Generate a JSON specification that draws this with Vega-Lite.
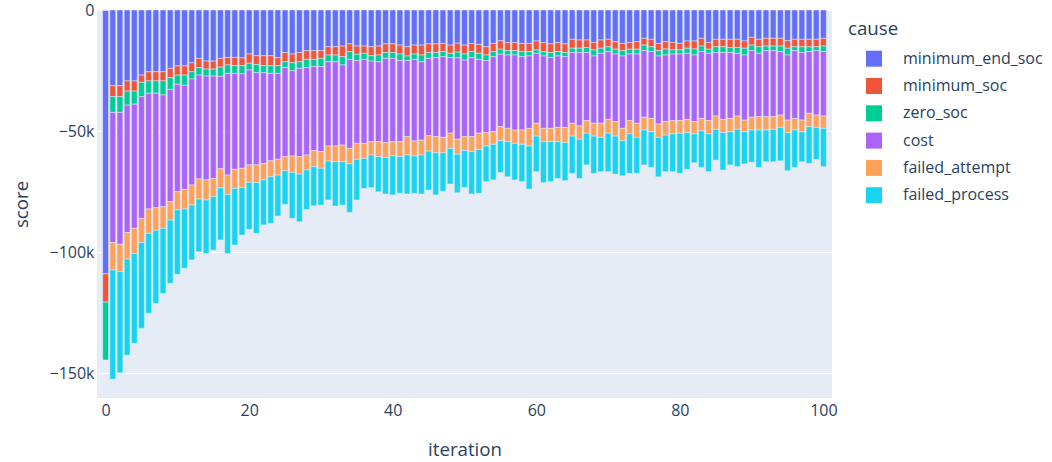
{
"$schema": "https://vega.github.io/schema/vega-lite/v6.json",
"width": 735, "height": 388,
"autosize": {"type": "none"},
"padding": {"left": 97, "top": 10, "right": 220, "bottom": 64},
"background": "white",
"config": {
  "font": "Open Sans",
  "view": {"fill": "#E5ECF6", "stroke": null},
  "axis": {"domain": false, "ticks": false, "gridColor": "white", "gridWidth": 1, "labelColor": "#2a3f5f", "labelFontSize": 16, "titleColor": "#2a3f5f", "titleFontSize": 18.7, "titleFontWeight": "normal", "labelFont": "Open Sans", "titleFont": "Open Sans"},
  "legend": {"titleFont": "Open Sans", "labelFont": "Open Sans"}
},
"datasets": {"order": [
{"cause":"minimum_end_soc","rank":0},
{"cause":"minimum_soc","rank":1},
{"cause":"zero_soc","rank":2},
{"cause":"cost","rank":3},
{"cause":"failed_attempt","rank":4},
{"cause":"failed_process","rank":5}
]},
"data": {"values": [
{"iteration":0,"minimum_end_soc":-109000,"minimum_soc":-11700,"zero_soc":-23900,"cost":0,"failed_attempt":0,"failed_process":0},
{"iteration":1,"minimum_end_soc":-31300,"minimum_soc":-4500,"zero_soc":-6500,"cost":-53800,"failed_attempt":-11300,"failed_process":-45100},
{"iteration":2,"minimum_end_soc":-31300,"minimum_soc":-4500,"zero_soc":-6500,"cost":-54500,"failed_attempt":-11300,"failed_process":-41800},
{"iteration":3,"minimum_end_soc":-29300,"minimum_soc":-4200,"zero_soc":-5800,"cost":-52700,"failed_attempt":-10900,"failed_process":-39700},
{"iteration":4,"minimum_end_soc":-29300,"minimum_soc":-4200,"zero_soc":-5400,"cost":-51300,"failed_attempt":-10400,"failed_process":-37100},
{"iteration":5,"minimum_end_soc":-26900,"minimum_soc":-3000,"zero_soc":-5900,"cost":-50300,"failed_attempt":-10000,"failed_process":-35400},
{"iteration":6,"minimum_end_soc":-25500,"minimum_soc":-3800,"zero_soc":-5100,"cost":-47800,"failed_attempt":-10100,"failed_process":-33000},
{"iteration":7,"minimum_end_soc":-25500,"minimum_soc":-3800,"zero_soc":-5100,"cost":-47300,"failed_attempt":-9300,"failed_process":-30200},
{"iteration":8,"minimum_end_soc":-25500,"minimum_soc":-3800,"zero_soc":-5800,"cost":-46200,"failed_attempt":-8900,"failed_process":-26900},
{"iteration":9,"minimum_end_soc":-24100,"minimum_soc":-3900,"zero_soc":-4800,"cost":-46400,"failed_attempt":-7600,"failed_process":-26100},
{"iteration":10,"minimum_end_soc":-23100,"minimum_soc":-3800,"zero_soc":-3800,"cost":-44400,"failed_attempt":-7500,"failed_process":-26600},
{"iteration":11,"minimum_end_soc":-23100,"minimum_soc":-3800,"zero_soc":-4200,"cost":-43000,"failed_attempt":-8100,"failed_process":-24500},
{"iteration":12,"minimum_end_soc":-21800,"minimum_soc":-3700,"zero_soc":-3000,"cost":-43800,"failed_attempt":-8300,"failed_process":-22700},
{"iteration":13,"minimum_end_soc":-20000,"minimum_soc":-3800,"zero_soc":-3100,"cost":-42900,"failed_attempt":-8300,"failed_process":-21800},
{"iteration":14,"minimum_end_soc":-21100,"minimum_soc":-3300,"zero_soc":-2900,"cost":-42900,"failed_attempt":-8300,"failed_process":-22100},
{"iteration":15,"minimum_end_soc":-21100,"minimum_soc":-3300,"zero_soc":-2900,"cost":-42300,"failed_attempt":-7500,"failed_process":-22100},
{"iteration":16,"minimum_end_soc":-20000,"minimum_soc":-3600,"zero_soc":-3800,"cost":-38200,"failed_attempt":-7900,"failed_process":-21500},
{"iteration":17,"minimum_end_soc":-19600,"minimum_soc":-3100,"zero_soc":-3500,"cost":-42000,"failed_attempt":-8000,"failed_process":-24400},
{"iteration":18,"minimum_end_soc":-19600,"minimum_soc":-3400,"zero_soc":-3200,"cost":-39600,"failed_attempt":-7900,"failed_process":-23400},
{"iteration":19,"minimum_end_soc":-19800,"minimum_soc":-3200,"zero_soc":-3400,"cost":-39000,"failed_attempt":-7900,"failed_process":-19700},
{"iteration":20,"minimum_end_soc":-18200,"minimum_soc":-3800,"zero_soc":-2800,"cost":-39200,"failed_attempt":-7200,"failed_process":-19400},
{"iteration":21,"minimum_end_soc":-18900,"minimum_soc":-3600,"zero_soc":-3400,"cost":-38100,"failed_attempt":-7300,"failed_process":-21000},
{"iteration":22,"minimum_end_soc":-18900,"minimum_soc":-4100,"zero_soc":-2900,"cost":-37500,"failed_attempt":-6800,"failed_process":-18600},
{"iteration":23,"minimum_end_soc":-18900,"minimum_soc":-4100,"zero_soc":-3200,"cost":-36100,"failed_attempt":-6600,"failed_process":-19200},
{"iteration":24,"minimum_end_soc":-19700,"minimum_soc":-3300,"zero_soc":-3200,"cost":-35500,"failed_attempt":-6500,"failed_process":-16900},
{"iteration":25,"minimum_end_soc":-17600,"minimum_soc":-3800,"zero_soc":-2400,"cost":-36800,"failed_attempt":-5800,"failed_process":-13900},
{"iteration":26,"minimum_end_soc":-18200,"minimum_soc":-3600,"zero_soc":-3300,"cost":-35200,"failed_attempt":-6800,"failed_process":-19000},
{"iteration":27,"minimum_end_soc":-17600,"minimum_soc":-3800,"zero_soc":-2700,"cost":-36500,"failed_attempt":-7200,"failed_process":-19700},
{"iteration":28,"minimum_end_soc":-16800,"minimum_soc":-3600,"zero_soc":-3400,"cost":-36100,"failed_attempt":-6200,"failed_process":-16300},
{"iteration":29,"minimum_end_soc":-16800,"minimum_soc":-3600,"zero_soc":-3000,"cost":-34700,"failed_attempt":-6600,"failed_process":-16200},
{"iteration":30,"minimum_end_soc":-16800,"minimum_soc":-3200,"zero_soc":-3400,"cost":-35100,"failed_attempt":-6900,"failed_process":-15200},
{"iteration":31,"minimum_end_soc":-15200,"minimum_soc":-3400,"zero_soc":-2800,"cost":-34800,"failed_attempt":-6200,"failed_process":-16100},
{"iteration":32,"minimum_end_soc":-15200,"minimum_soc":-3400,"zero_soc":-2800,"cost":-34800,"failed_attempt":-6500,"failed_process":-18300},
{"iteration":33,"minimum_end_soc":-14900,"minimum_soc":-4400,"zero_soc":-3400,"cost":-33100,"failed_attempt":-6900,"failed_process":-17900},
{"iteration":34,"minimum_end_soc":-14000,"minimum_soc":-3200,"zero_soc":-3200,"cost":-36800,"failed_attempt":-6400,"failed_process":-20000},
{"iteration":35,"minimum_end_soc":-14900,"minimum_soc":-3400,"zero_soc":-2600,"cost":-34200,"failed_attempt":-6600,"failed_process":-16800},
{"iteration":36,"minimum_end_soc":-14900,"minimum_soc":-3000,"zero_soc":-2500,"cost":-34700,"failed_attempt":-6200,"failed_process":-12400},
{"iteration":37,"minimum_end_soc":-15200,"minimum_soc":-3700,"zero_soc":-2200,"cost":-33300,"failed_attempt":-5500,"failed_process":-13500},
{"iteration":38,"minimum_end_soc":-14900,"minimum_soc":-3700,"zero_soc":-2800,"cost":-33000,"failed_attempt":-6200,"failed_process":-14500},
{"iteration":39,"minimum_end_soc":-14000,"minimum_soc":-3600,"zero_soc":-2400,"cost":-34800,"failed_attempt":-6100,"failed_process":-15100},
{"iteration":40,"minimum_end_soc":-14000,"minimum_soc":-3600,"zero_soc":-2400,"cost":-34400,"failed_attempt":-5800,"failed_process":-16200},
{"iteration":41,"minimum_end_soc":-14500,"minimum_soc":-3700,"zero_soc":-2700,"cost":-33500,"failed_attempt":-6200,"failed_process":-15100},
{"iteration":42,"minimum_end_soc":-15200,"minimum_soc":-3800,"zero_soc":-1900,"cost":-31400,"failed_attempt":-7600,"failed_process":-16100},
{"iteration":43,"minimum_end_soc":-14500,"minimum_soc":-3700,"zero_soc":-2200,"cost":-33700,"failed_attempt":-6200,"failed_process":-15400},
{"iteration":44,"minimum_end_soc":-14500,"minimum_soc":-4100,"zero_soc":-2800,"cost":-32400,"failed_attempt":-6100,"failed_process":-16100},
{"iteration":45,"minimum_end_soc":-14000,"minimum_soc":-3600,"zero_soc":-2400,"cost":-31900,"failed_attempt":-6400,"failed_process":-16100},
{"iteration":46,"minimum_end_soc":-14000,"minimum_soc":-3600,"zero_soc":-2100,"cost":-32600,"failed_attempt":-6700,"failed_process":-17400},
{"iteration":47,"minimum_end_soc":-13800,"minimum_soc":-3400,"zero_soc":-2100,"cost":-33300,"failed_attempt":-6400,"failed_process":-15800},
{"iteration":48,"minimum_end_soc":-14500,"minimum_soc":-3400,"zero_soc":-1800,"cost":-31200,"failed_attempt":-6300,"failed_process":-14700},
{"iteration":49,"minimum_end_soc":-13700,"minimum_soc":-3700,"zero_soc":-2400,"cost":-33600,"failed_attempt":-6200,"failed_process":-15900},
{"iteration":50,"minimum_end_soc":-14500,"minimum_soc":-3700,"zero_soc":-2500,"cost":-31600,"failed_attempt":-5800,"failed_process":-15200},
{"iteration":51,"minimum_end_soc":-13800,"minimum_soc":-3400,"zero_soc":-2500,"cost":-32600,"failed_attempt":-6200,"failed_process":-17500},
{"iteration":52,"minimum_end_soc":-14200,"minimum_soc":-3700,"zero_soc":-2500,"cost":-30500,"failed_attempt":-6700,"failed_process":-18100},
{"iteration":53,"minimum_end_soc":-15200,"minimum_soc":-3400,"zero_soc":-2300,"cost":-29800,"failed_attempt":-5500,"failed_process":-14700},
{"iteration":54,"minimum_end_soc":-13800,"minimum_soc":-3400,"zero_soc":-2100,"cost":-31000,"failed_attempt":-5200,"failed_process":-14700},
{"iteration":55,"minimum_end_soc":-12700,"minimum_soc":-3500,"zero_soc":-2100,"cost":-29900,"failed_attempt":-5800,"failed_process":-13100},
{"iteration":56,"minimum_end_soc":-13500,"minimum_soc":-3300,"zero_soc":-1800,"cost":-30300,"failed_attempt":-5500,"failed_process":-14500},
{"iteration":57,"minimum_end_soc":-13500,"minimum_soc":-3300,"zero_soc":-1800,"cost":-31000,"failed_attempt":-5500,"failed_process":-15100},
{"iteration":58,"minimum_end_soc":-13800,"minimum_soc":-3400,"zero_soc":-2100,"cost":-30300,"failed_attempt":-5900,"failed_process":-15400},
{"iteration":59,"minimum_end_soc":-13800,"minimum_soc":-3400,"zero_soc":-1800,"cost":-29900,"failed_attempt":-7300,"failed_process":-17800},
{"iteration":60,"minimum_end_soc":-12800,"minimum_soc":-3700,"zero_soc":-1400,"cost":-28900,"failed_attempt":-5300,"failed_process":-14700},
{"iteration":61,"minimum_end_soc":-13500,"minimum_soc":-3700,"zero_soc":-1800,"cost":-29900,"failed_attempt":-5500,"failed_process":-16900},
{"iteration":62,"minimum_end_soc":-14000,"minimum_soc":-3600,"zero_soc":-2000,"cost":-29300,"failed_attempt":-5500,"failed_process":-16500},
{"iteration":63,"minimum_end_soc":-13500,"minimum_soc":-3700,"zero_soc":-1800,"cost":-29500,"failed_attempt":-5900,"failed_process":-15200},
{"iteration":64,"minimum_end_soc":-14000,"minimum_soc":-3600,"zero_soc":-1700,"cost":-29200,"failed_attempt":-6300,"failed_process":-15700},
{"iteration":65,"minimum_end_soc":-12100,"minimum_soc":-3700,"zero_soc":-1800,"cost":-29200,"failed_attempt":-5300,"failed_process":-15400},
{"iteration":66,"minimum_end_soc":-12400,"minimum_soc":-3400,"zero_soc":-1800,"cost":-30300,"failed_attempt":-5500,"failed_process":-16200},
{"iteration":67,"minimum_end_soc":-12400,"minimum_soc":-3100,"zero_soc":-2100,"cost":-28100,"failed_attempt":-5200,"failed_process":-13100},
{"iteration":68,"minimum_end_soc":-13400,"minimum_soc":-3100,"zero_soc":-2500,"cost":-27800,"failed_attempt":-5300,"failed_process":-15400},
{"iteration":69,"minimum_end_soc":-12400,"minimum_soc":-3400,"zero_soc":-2100,"cost":-28900,"failed_attempt":-5800,"failed_process":-14200},
{"iteration":70,"minimum_end_soc":-12100,"minimum_soc":-3100,"zero_soc":-2000,"cost":-28000,"failed_attempt":-5700,"failed_process":-15900},
{"iteration":71,"minimum_end_soc":-13100,"minimum_soc":-3100,"zero_soc":-2000,"cost":-27900,"failed_attempt":-6000,"failed_process":-15700},
{"iteration":72,"minimum_end_soc":-13800,"minimum_soc":-3000,"zero_soc":-2200,"cost":-29900,"failed_attempt":-5100,"failed_process":-14500},
{"iteration":73,"minimum_end_soc":-13400,"minimum_soc":-2800,"zero_soc":-2000,"cost":-27500,"failed_attempt":-5500,"failed_process":-16300},
{"iteration":74,"minimum_end_soc":-13100,"minimum_soc":-3100,"zero_soc":-2000,"cost":-28600,"failed_attempt":-5800,"failed_process":-14900},
{"iteration":75,"minimum_end_soc":-11700,"minimum_soc":-2800,"zero_soc":-2300,"cost":-27500,"failed_attempt":-5300,"failed_process":-14400},
{"iteration":76,"minimum_end_soc":-12100,"minimum_soc":-3100,"zero_soc":-2000,"cost":-27600,"failed_attempt":-5500,"failed_process":-14700},
{"iteration":77,"minimum_end_soc":-13800,"minimum_soc":-3000,"zero_soc":-2200,"cost":-28100,"failed_attempt":-5500,"failed_process":-16300},
{"iteration":78,"minimum_end_soc":-13100,"minimum_soc":-3000,"zero_soc":-2500,"cost":-27500,"failed_attempt":-5600,"failed_process":-15100},
{"iteration":79,"minimum_end_soc":-13400,"minimum_soc":-3100,"zero_soc":-1700,"cost":-27500,"failed_attempt":-5500,"failed_process":-15600},
{"iteration":80,"minimum_end_soc":-13800,"minimum_soc":-2700,"zero_soc":-1700,"cost":-27500,"failed_attempt":-5200,"failed_process":-16600},
{"iteration":81,"minimum_end_soc":-12800,"minimum_soc":-3000,"zero_soc":-2100,"cost":-27300,"failed_attempt":-5500,"failed_process":-15100},
{"iteration":82,"minimum_end_soc":-12800,"minimum_soc":-3300,"zero_soc":-2500,"cost":-27500,"failed_attempt":-5100,"failed_process":-11900},
{"iteration":83,"minimum_end_soc":-11700,"minimum_soc":-3200,"zero_soc":-2300,"cost":-27600,"failed_attempt":-5100,"failed_process":-15100},
{"iteration":84,"minimum_end_soc":-13400,"minimum_soc":-2800,"zero_soc":-1700,"cost":-27800,"failed_attempt":-5500,"failed_process":-15600},
{"iteration":85,"minimum_end_soc":-12100,"minimum_soc":-3100,"zero_soc":-2400,"cost":-26200,"failed_attempt":-5500,"failed_process":-12700},
{"iteration":86,"minimum_end_soc":-12100,"minimum_soc":-3100,"zero_soc":-2400,"cost":-27600,"failed_attempt":-5500,"failed_process":-15400},
{"iteration":87,"minimum_end_soc":-12100,"minimum_soc":-3400,"zero_soc":-2100,"cost":-27200,"failed_attempt":-5500,"failed_process":-13700},
{"iteration":88,"minimum_end_soc":-12100,"minimum_soc":-3400,"zero_soc":-2400,"cost":-25900,"failed_attempt":-5500,"failed_process":-15400},
{"iteration":89,"minimum_end_soc":-12800,"minimum_soc":-3000,"zero_soc":-2800,"cost":-26900,"failed_attempt":-4800,"failed_process":-13300},
{"iteration":90,"minimum_end_soc":-11300,"minimum_soc":-3200,"zero_soc":-2300,"cost":-27500,"failed_attempt":-5300,"failed_process":-13300},
{"iteration":91,"minimum_end_soc":-12100,"minimum_soc":-3100,"zero_soc":-2700,"cost":-26200,"failed_attempt":-5500,"failed_process":-15400},
{"iteration":92,"minimum_end_soc":-11700,"minimum_soc":-3200,"zero_soc":-1900,"cost":-27300,"failed_attempt":-5500,"failed_process":-13100},
{"iteration":93,"minimum_end_soc":-11700,"minimum_soc":-3200,"zero_soc":-1900,"cost":-27300,"failed_attempt":-5200,"failed_process":-13400},
{"iteration":94,"minimum_end_soc":-11700,"minimum_soc":-3200,"zero_soc":-2300,"cost":-26200,"failed_attempt":-5100,"failed_process":-13800},
{"iteration":95,"minimum_end_soc":-12700,"minimum_soc":-3100,"zero_soc":-2800,"cost":-26900,"failed_attempt":-5200,"failed_process":-15700},
{"iteration":96,"minimum_end_soc":-12100,"minimum_soc":-3100,"zero_soc":-1600,"cost":-28000,"failed_attempt":-4800,"failed_process":-15400},
{"iteration":97,"minimum_end_soc":-12100,"minimum_soc":-3100,"zero_soc":-2400,"cost":-27900,"failed_attempt":-4800,"failed_process":-12400},
{"iteration":98,"minimum_end_soc":-12100,"minimum_soc":-3100,"zero_soc":-2000,"cost":-25500,"failed_attempt":-5500,"failed_process":-15200},
{"iteration":99,"minimum_end_soc":-12100,"minimum_soc":-3100,"zero_soc":-1600,"cost":-26600,"failed_attempt":-5100,"failed_process":-13200},
{"iteration":100,"minimum_end_soc":-11700,"minimum_soc":-3200,"zero_soc":-2300,"cost":-26600,"failed_attempt":-5100,"failed_process":-15800}
]},
"transform": [
  {"fold": ["minimum_end_soc","minimum_soc","zero_soc","cost","failed_attempt","failed_process"], "as": ["cause","score"]},
  {"lookup": "cause", "from": {"data": {"name": "order"}, "key": "cause", "fields": ["rank"]}}
],
"mark": {"type": "bar", "width": 5.8, "stroke": "#E5ECF6", "strokeWidth": 0.5},
"encoding": {
  "x": {"field": "iteration", "type": "quantitative", "scale": {"domain": [-0.5, 100.5], "nice": false, "zero": false}, "axis": {"values": [0,20,40,60,80,100], "title": "iteration", "grid": false, "labelPadding": 4, "titlePadding": 22}},
  "y": {"field": "score", "type": "quantitative", "stack": "zero", "scale": {"domain": [-160300, 0], "nice": false}, "axis": {"values": [0,-50000,-100000,-150000], "labelExpr": "datum.value == 0 ? '0' : format(datum.value, '~s')", "title": "score", "labelPadding": 3, "titlePadding": 18}},
  "order": {"field": "rank", "type": "quantitative", "sort": "ascending"},
  "color": {"field": "cause", "type": "nominal",
    "sort": ["minimum_end_soc","minimum_soc","zero_soc","cost","failed_attempt","failed_process"],
    "scale": {"domain": ["minimum_end_soc","minimum_soc","zero_soc","cost","failed_attempt","failed_process"], "range": ["#636efa","#EF553B","#00cc96","#ab63fa","#FFA15A","#19d3f3"]},
    "legend": {"orient": "none", "legendX": 751, "legendY": 10, "title": "cause", "titleFontSize": 18.7, "titleFontWeight": "normal", "titleColor": "#2a3f5f", "titlePadding": 12, "labelFontSize": 16, "labelColor": "#2a3f5f", "symbolType": "square", "symbolSize": 256, "symbolStrokeWidth": 0, "symbolOpacity": 1, "symbolOffset": 18, "labelOffset": 21, "rowPadding": 11.3}}
}
}
